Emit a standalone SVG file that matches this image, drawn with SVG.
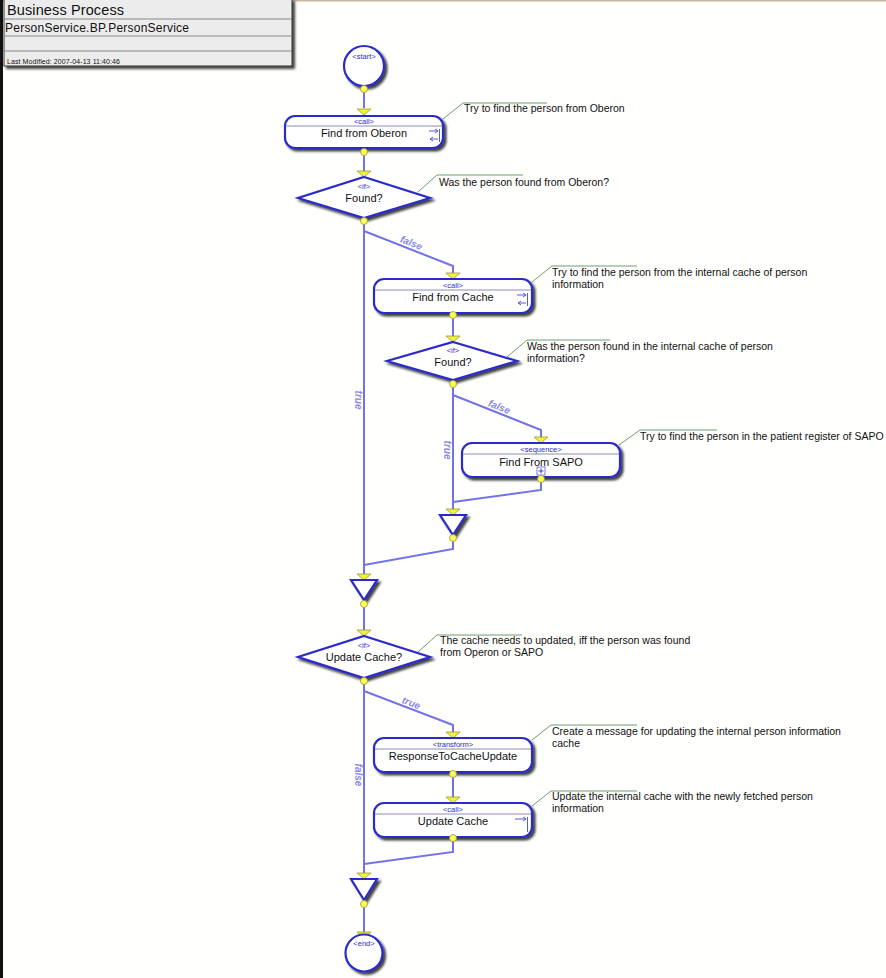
<svg xmlns="http://www.w3.org/2000/svg" width="886" height="978" viewBox="0 0 886 978">
<defs>
<filter id="sh" x="-20%" y="-20%" width="150%" height="160%">
<feDropShadow dx="2.5" dy="2.5" stdDeviation="1.2" flood-color="#000" flood-opacity="0.75"/>
</filter>
<style>
.node{fill:#fff;stroke:#2c2cc8;stroke-width:2.2;filter:url(#sh)}
.div{stroke:#8a8ab8;stroke-width:1}
.conn{fill:none;stroke:#7272ea;stroke-width:2}
.arr{fill:#f2f23c;stroke:#9a9a30;stroke-width:0.8}
.dot{fill:#ffff5a;stroke:#9a9a30;stroke-width:0.8}
.lead{fill:none;stroke:#6e9e6e;stroke-width:1}
.cmt{font-family:"Liberation Sans",Arial,sans-serif;font-size:10.5px;fill:#111}
.lbl{font-family:"Liberation Sans",Arial,sans-serif;font-size:11px;fill:#111;text-anchor:middle}
.st{font-family:"Liberation Sans",Arial,sans-serif;font-size:7.5px;fill:#2a2ad0;text-anchor:middle}
.br{font-family:"Liberation Sans",Arial,sans-serif;font-size:10px;font-weight:bold;font-style:italic;fill:#8a8ae6;text-anchor:middle}
.ico{fill:none;stroke:#5a5ad8;stroke-width:1}
.hd{font-family:"Liberation Sans",Arial,sans-serif;fill:#111}
</style>
</defs>
<rect x="0" y="0" width="886" height="978" fill="#fffffd"/>
<rect x="0" y="0" width="886" height="1.5" fill="#c8b4a0"/>
<rect x="0" y="0" width="3" height="978" fill="#111"/>

<g id="header">
<rect x="4" y="-1" width="288" height="67" fill="#ececec" stroke="#333" stroke-width="1" filter="url(#sh)"/>
<line x1="4" y1="19" x2="292" y2="19" stroke="#888"/>
<line x1="4" y1="36" x2="292" y2="36" stroke="#888"/>
<line x1="4" y1="51" x2="292" y2="51" stroke="#888"/>
<text class="hd" x="7" y="15" font-size="14.5" textLength="117">Business Process</text>
<text class="hd" x="5" y="32" font-size="12" textLength="184">PersonService.BP.PersonService</text>
<text class="hd" x="7" y="64" font-size="7" textLength="113">Last Modified: 2007-04-13 11:40:46</text>
</g>

<g id="connectors">
<path class="conn" d="M364,89 V108"/>
<path class="conn" d="M364,152 V172"/>
<path class="conn" d="M364,221 V575"/>
<path class="conn" d="M364,221 V231 L453,266 V273"/>
<path class="conn" d="M453,315 V336"/>
<path class="conn" d="M453,384 V509"/>
<path class="conn" d="M453,384 V395 L541,430 V437"/>
<path class="conn" d="M541,479 V490 L453,502"/>
<path class="conn" d="M453,538 V549 L364,565"/>
<path class="conn" d="M364,604 V630"/>
<path class="conn" d="M364,681 V873"/>
<path class="conn" d="M364,681 V691 L453,725 V732"/>
<path class="conn" d="M453,774 V797"/>
<path class="conn" d="M453,838 V852 L364,864"/>
<path class="conn" d="M364,904 V933"/>
<text class="br" x="410" y="246" transform="rotate(21.5 410 246)">false</text>
<text class="br" x="498" y="410" transform="rotate(21.7 498 410)">false</text>
<text class="br" x="410" y="706" transform="rotate(20.9 410 706)">true</text>
<text class="br" x="355" y="400" transform="rotate(90 355 400)">true</text>
<text class="br" x="444" y="450" transform="rotate(90 444 450)">true</text>
<text class="br" x="355" y="775" transform="rotate(90 355 775)">false</text>
</g>

<g id="comments">
<path class="lead" d="M443,119 L463,103 H547"/>
<text class="cmt" x="464" y="112">Try to find the person from Oberon</text>
<path class="lead" d="M418,192 L437,175 H523"/>
<text class="cmt" x="439" y="186">Was the person found from Oberon?</text>
<path class="lead" d="M532,282 L552,266 H637"/>
<text class="cmt" x="552" y="276">Try to find the person from the internal cache of person</text>
<text class="cmt" x="552" y="288">information</text>
<path class="lead" d="M507,357 L527,340 H610"/>
<text class="cmt" x="527" y="350">Was the person found in the internal cache of person</text>
<text class="cmt" x="527" y="362">information?</text>
<path class="lead" d="M619,445 L640,430 H717"/>
<text class="cmt" x="640" y="440">Try to find the person in the patient register of SAPO</text>
<path class="lead" d="M418,652 L437,635 H522"/>
<text class="cmt" x="440" y="644">The cache needs to updated, iff the person was found</text>
<text class="cmt" x="440" y="656">from Operon or SAPO</text>
<path class="lead" d="M532,740 L551,725 H637"/>
<text class="cmt" x="552" y="735">Create a message for updating the internal person information</text>
<text class="cmt" x="552" y="747">cache</text>
<path class="lead" d="M532,806 L551,791 H637"/>
<text class="cmt" x="552" y="800">Update the internal cache with the newly fetched person</text>
<text class="cmt" x="552" y="812">information</text>
</g>

<g id="start">
<circle class="node" cx="364" cy="66" r="20" stroke-width="2.6"/>
<text class="st" x="364" y="59">&lt;start&gt;</text>
<circle class="dot" cx="364" cy="89" r="3.5"/>
</g>

<g id="findOberon">
<polygon class="arr" points="357,109 371,109 364,115"/>
<rect class="node" x="285" y="116" width="158" height="32" rx="10"/>
<line class="div" x1="286" y1="126" x2="442" y2="126"/>
<text class="st" x="364" y="124">&lt;call&gt;</text>
<text class="lbl" x="364" y="137">Find from Oberon</text>
<path class="ico" d="M429,131 H438 M435,129 L438,131 L435,133 M439.5,129 V142 M438,139 H430 M433,137 L430,139 L433,141"/>
<circle class="dot" cx="364" cy="152" r="3.5"/>
</g>

<g id="found1">
<polygon class="arr" points="357,171 371,171 364,177"/>
<polygon class="node" points="364,177 430,198 364,218 298,198"/>
<text class="st" x="364" y="189">&lt;if&gt;</text>
<text class="lbl" x="364" y="202">Found?</text>
<circle class="dot" cx="364" cy="221" r="3.5"/>
</g>

<g id="findCache">
<polygon class="arr" points="446,273 460,273 453,279"/>
<rect class="node" x="374" y="279" width="158" height="34" rx="10"/>
<line class="div" x1="375" y1="290" x2="531" y2="290"/>
<text class="st" x="453" y="288">&lt;call&gt;</text>
<text class="lbl" x="453" y="301">Find from Cache</text>
<path class="ico" d="M517,295 H526 M523,293 L526,295 L523,297 M527.5,293 V306 M526,303 H518 M521,301 L518,303 L521,305"/>
<circle class="dot" cx="453" cy="315" r="3.5"/>
</g>

<g id="found2">
<polygon class="arr" points="446,336 460,336 453,342"/>
<polygon class="node" points="453,342 517,361 453,380 387,361"/>
<text class="st" x="453" y="353">&lt;if&gt;</text>
<text class="lbl" x="453" y="366">Found?</text>
<circle class="dot" cx="453" cy="384" r="3.5"/>
</g>

<g id="findSAPO">
<polygon class="arr" points="534,437 548,437 541,443"/>
<rect class="node" x="462" y="443" width="158" height="34" rx="10"/>
<line class="div" x1="463" y1="454" x2="619" y2="454"/>
<text class="st" x="541" y="452">&lt;sequence&gt;</text>
<text class="lbl" x="541" y="466">Find From SAPO</text>
<rect x="537" y="467" width="8" height="8" fill="#fff" stroke="#5a5ad8" stroke-width="0.8"/>
<path d="M541,468.5 V473.5 M538.5,471 H543.5" stroke="#3a3ad0" stroke-width="1"/>
<circle class="dot" cx="541" cy="479" r="3.5"/>
</g>

<g id="join1">
<polygon class="arr" points="446,509 460,509 453,515"/>
<polygon class="node" points="440,515 466,515 453,535"/>
<circle class="dot" cx="453" cy="538" r="3.5"/>
</g>

<g id="join2">
<polygon class="arr" points="357,574 371,574 364,580"/>
<polygon class="node" points="351,580 377,580 364,600"/>
<circle class="dot" cx="364" cy="604" r="3.5"/>
</g>

<g id="updateCacheIf">
<polygon class="arr" points="357,630 371,630 364,636"/>
<polygon class="node" points="364,636 430,657 364,678 298,657"/>
<text class="st" x="364" y="648">&lt;if&gt;</text>
<text class="lbl" x="364" y="661">Update Cache?</text>
<circle class="dot" cx="364" cy="681" r="3.5"/>
</g>

<g id="transform">
<polygon class="arr" points="446,732 460,732 453,738"/>
<rect class="node" x="374" y="738" width="158" height="34" rx="10"/>
<line class="div" x1="375" y1="749" x2="531" y2="749"/>
<text class="st" x="453" y="747">&lt;transform&gt;</text>
<text class="lbl" x="453" y="760">ResponseToCacheUpdate</text>
<circle class="dot" cx="453" cy="774" r="3.5"/>
</g>

<g id="updateCache">
<polygon class="arr" points="446,797 460,797 453,803"/>
<rect class="node" x="374" y="803" width="158" height="34" rx="10"/>
<line class="div" x1="375" y1="814" x2="531" y2="814"/>
<text class="st" x="453" y="812">&lt;call&gt;</text>
<text class="lbl" x="453" y="825">Update Cache</text>
<path class="ico" d="M515,819 H526 M523,817 L526,819 L523,821 M527.5,817 V832"/>
<circle class="dot" cx="453" cy="838" r="3.5"/>
</g>

<g id="join3">
<polygon class="arr" points="357,873 371,873 364,879"/>
<polygon class="node" points="351,879 377,879 364,900"/>
<circle class="dot" cx="364" cy="904" r="3.5"/>
</g>

<g id="end">
<polygon class="arr" points="357,932 371,932 364,938"/>
<circle class="node" cx="364" cy="953" r="18.5" stroke="#1a1ad8" stroke-width="4"/>
<text class="st" x="364" y="946">&lt;end&gt;</text>
</g>
</svg>
